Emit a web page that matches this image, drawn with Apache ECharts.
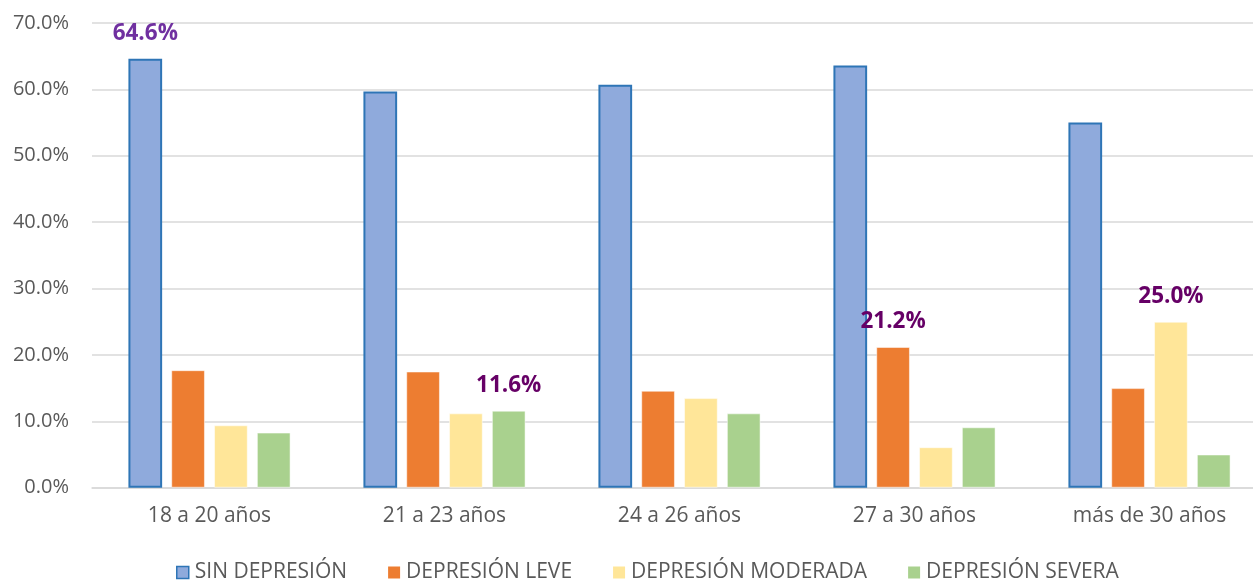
<!DOCTYPE html>
<html>
<head>
<meta charset="utf-8">
<script src="https://cdn.jsdelivr.net/npm/echarts@6/dist/echarts.min.js"></script>
<style>
html,body{margin:0;padding:0;background:#fff;}
#chart{width:1253px;height:580px;}
</style>
</head>
<body>
<div id="chart"></div>
<script>
const categories = ['18 a 20 años', '21 a 23 años', '24 a 26 años', '27 a 30 años', 'más de 30 años'];
const seriesNames = ['SIN DEPRESIÓN', 'DEPRESIÓN LEVE', 'DEPRESIÓN MODERADA', 'DEPRESIÓN SEVERA'];
const sinDepresion = [64.6, 59.7, 60.7, 63.6, 55.0];
const depresionLeve = [17.7, 17.5, 14.6, 21.2, 15.0];
const depresionModerada = [9.4, 11.2, 13.5, 6.1, 25.0];
const depresionSevera = [8.3, 11.6, 11.2, 9.1, 5.0];
const yTicks = [0, 10, 20, 30, 40, 50, 60, 70];
// which bars carry a value label: [seriesIndex, categoryIndex]
const labelledBars = [[0, 0], [3, 1], [1, 3], [2, 4]];

const seriesValues = [sinDepresion, depresionLeve, depresionModerada, depresionSevera];
const fills = ['#8faadc', '#ed7d31', '#ffe699', '#a9d18e'];
const labelColors = ['#7030a0', '#660066', '#660066', '#660066'];
const FONT = '"Open Sans", "Noto Sans", sans-serif';

const chart = echarts.init(document.getElementById('chart'), null, {renderer: 'canvas'});

const series = seriesValues.map((vals, si) => ({
  name: seriesNames[si],
  type: 'bar',
  barGap: '27%',
  barCategoryGap: '31%',
  itemStyle: si === 0
    ? {color: fills[si], borderColor: '#2e75b6', borderWidth: 2}
    : {color: fills[si], borderColor: 'rgba(255,255,255,0.5)', borderWidth: 1},
  emphasis: {disabled: true},
  data: vals.map((v, ci) => {
    const lab = labelledBars.find(p => p[0] === si && p[1] === ci);
    const item = {value: v};
    if (lab) {
      item.label = {
        show: true,
        position: 'top',
        distance: 14,
        formatter: p => p.value.toFixed(1) + '%',
        color: labelColors[labelledBars.indexOf(lab)],
        fontFamily: FONT,
        fontWeight: 'bold',
        fontSize: 22.5
      };
    }
    return item;
  })
}));

chart.setOption({
  animation: false,
  backgroundColor: '#ffffff',
  grid: {left: 92, width: 1175, top: 23, bottom: 92.3, containLabel: false, outerBoundsMode: 'none'},
  legend: {
    data: seriesNames.map((n, i) => i === 0
      ? {name: n, itemStyle: {color: fills[0], borderColor: '#2e75b6', borderWidth: 1.5}}
      : {name: n, itemStyle: {color: fills[i], borderWidth: 0}}),
    left: 176,
    top: 562,
    padding: 0,
    icon: 'rect',
    itemWidth: 12,
    itemHeight: 12,
    itemGap: 41,
    textStyle: {color: '#595959', fontFamily: FONT, fontSize: 21, padding: [0, 0, 0, 1]}
  },
  xAxis: {
    type: 'category',
    data: categories,
    axisTick: {show: false},
    axisLine: {lineStyle: {color: '#d9d9d9', width: 1.5}},
    axisLabel: {color: '#595959', fontFamily: FONT, fontSize: 21, margin: 18}
  },
  yAxis: {
    type: 'value',
    min: yTicks[0],
    max: yTicks[yTicks.length - 1],
    interval: 10,
    axisLine: {show: false},
    axisTick: {show: false},
    splitLine: {lineStyle: {color: '#d9d9d9', width: 1.5}},
    axisLabel: {
      color: '#595959', fontFamily: FONT, fontSize: 20, margin: 23,
      formatter: v => v.toFixed(1) + '%'
    }
  },
  series: series
});
</script>
</body>
</html>
